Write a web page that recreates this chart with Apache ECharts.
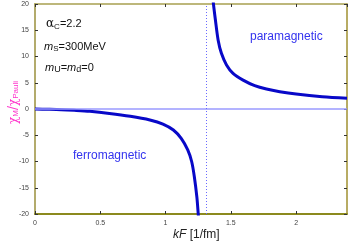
<!DOCTYPE html>
<html><head><meta charset="utf-8">
<script src="https://cdn.jsdelivr.net/npm/echarts@6/dist/echarts.min.js"></script>
<style>html,body{margin:0;padding:0;background:#fff}#c{width:349px;height:244px}</style>
</head><body><div id="c"></div>
<script>
const kfLeft = [0, 0.1, 0.2, 0.3, 0.42, 0.57, 0.73, 0.88, 0.98, 1.06, 1.12, 1.17, 1.2, 1.22, 1.24, 1.25, 1.256];
const chiLeft = [0, -0.05, -0.12, -0.25, -0.45, -0.85, -1.4, -2.1, -2.86, -4.0, -5.6, -7.8, -10.0, -12.8, -16.8, -19.9, -22];
const kfRight = [1.362, 1.367, 1.382, 1.403, 1.428, 1.467, 1.517, 1.594, 1.683, 1.773, 1.875, 2.0, 2.2, 2.39];
const chiRight = [21.5, 20, 16.95, 13.1, 10.6, 8.4, 6.8, 5.5, 4.45, 3.8, 3.3, 2.85, 2.35, 2.05];
const xTicks = [0, 0.5, 1, 1.5, 2];
const yTicks = [-20, -15, -10, -5, 0, 5, 10, 15, 20];
const poleKf = 1.31;

const chart = echarts.init(document.getElementById('c'));
const lbl = {fontSize: 7, color: '#444', fontFamily: 'Liberation Sans'};
chart.setOption({
  animation: false,
  grid: {left: 35, right: 2, top: 4, bottom: 30},
  xAxis: [{
    type: 'value', min: 0, max: 2.39, interval: 0.5,
    axisLine: {onZero: false, lineStyle: {color: '#8c8a1e', width: 2}},
    axisTick: {inside: true, length: 3, lineStyle: {color: '#333', width: 1}},
    axisLabel: {...lbl, margin: 6, showMaxLabel: false,
      formatter: v => xTicks.includes(+v.toFixed(2)) ? String(v) : ''},
    splitLine: {show: false}
  }, {
    type: 'value', min: 0, max: 2.39, interval: 0.5, position: 'top',
    axisLine: {onZero: false, lineStyle: {color: '#a8a050', width: 1.5}},
    axisTick: {inside: true, length: 3, lineStyle: {color: '#333'}},
    axisLabel: {show: false}, splitLine: {show: false}
  }],
  yAxis: [{
    type: 'value', min: -20, max: 20, interval: 5,
    axisLine: {show: true, onZero: false, lineStyle: {color: '#b3ab6c', width: 2}},
    axisTick: {inside: true, length: 3, lineStyle: {color: '#333'}},
    axisLabel: {...lbl, margin: 6, formatter: v => yTicks.includes(v) ? String(v) : ''},
    splitLine: {show: false}
  }, {
    type: 'value', min: -20, max: 20, interval: 5, position: 'right',
    axisLine: {show: true, onZero: false, lineStyle: {color: '#a09030', width: 1.5}},
    axisTick: {inside: true, length: 3, lineStyle: {color: '#333'}},
    axisLabel: {show: false}, splitLine: {show: false}
  }],
  series: [{
    type: 'line', showSymbol: false, clip: true, smooth: 0.3,
    data: kfLeft.map((k, i) => [k, chiLeft[i]]),
    lineStyle: {color: '#0808c8', width: 3},
    markLine: {
      silent: true, symbol: 'none', label: {show: false},
      data: [
        {yAxis: 0, lineStyle: {color: '#9a9aff', width: 1.5, type: 'solid'}},
        {xAxis: poleKf, lineStyle: {color: '#6a6aff', width: 1, type: [1, 2]}}
      ]
    }
  }, {
    type: 'line', showSymbol: false, clip: true, smooth: 0.3,
    data: kfRight.map((k, i) => [k, chiRight[i]]),
    lineStyle: {color: '#0808c8', width: 3}
  }],
  graphic: [
    {type: 'text', left: 46, top: 18, style: {
      text: '{g|α}{s|C}{n|=2.2}',
      rich: {g: {fontSize: 12, fontFamily: 'DejaVu Serif', fill: '#111'},
             s: {fontSize: 8, fill: '#111', padding: [5, 0, 0, 0]},
             n: {fontSize: 11, fill: '#111', fontFamily: 'Liberation Sans'}}}},
    {type: 'text', left: 44, top: 41, style: {
      text: '{i|m}{s|S}{n|=300MeV}',
      rich: {i: {fontSize: 11, fontStyle: 'italic', fill: '#111', fontFamily: 'Liberation Sans'},
             s: {fontSize: 8, fill: '#111', padding: [5, 0, 0, 0]},
             n: {fontSize: 11, fill: '#111', fontFamily: 'Liberation Sans'}}}},
    {type: 'text', left: 45, top: 62, style: {
      text: '{i|m}{s|U}{n|=}{i|m}{s|d}{n|=0}',
      rich: {i: {fontSize: 11, fontStyle: 'italic', fill: '#111', fontFamily: 'Liberation Sans'},
             s: {fontSize: 9, fill: '#111', padding: [5, 0, 0, 0]},
             n: {fontSize: 11, fill: '#111', fontFamily: 'Liberation Sans'}}}},
    {type: 'text', left: 250, top: 31, style: {text: 'paramagnetic', fontSize: 12,
      fill: '#3333ee', fontFamily: 'Liberation Sans'}},
    {type: 'text', left: 73, top: 150, style: {text: 'ferromagnetic', fontSize: 12,
      fill: '#3333ee', fontFamily: 'Liberation Sans'}},
    {type: 'text', x: 8, y: 124, rotation: Math.PI / 2, style: {
      text: '{g|χ}{s|M}{g|/χ}{s|Pauli}',
      rich: {g: {fontSize: 12, fill: '#ff33cc', fontFamily: 'DejaVu Serif'},
             s: {fontSize: 8, fill: '#ff33cc', padding: [4, 0, 0, 0], fontFamily: 'Liberation Sans'}}}},
    {type: 'text', left: 173, top: 229, style: {
      text: '{i|kF}{n| [1/fm]}',
      rich: {i: {fontSize: 12, fontStyle: 'italic', fill: '#222', fontFamily: 'Liberation Sans'},
             n: {fontSize: 12, fill: '#222', fontFamily: 'Liberation Sans'}}}}
  ]
});
</script></body></html>
